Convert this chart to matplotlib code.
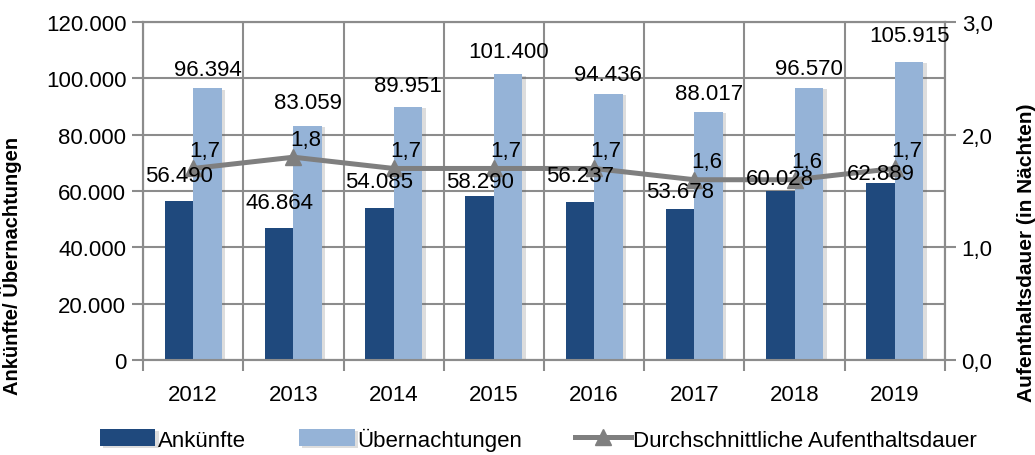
import numpy as np
import matplotlib
matplotlib.use('Agg')
import matplotlib.pyplot as plt
import matplotlib.patheffects as pe
import matplotlib.ticker as ticker

plt.rcParams['font.family'] = ['Liberation Sans', 'DejaVu Sans']

# data
jahre = ['2012', '2013', '2014', '2015', '2016', '2017', '2018', '2019']
ankuenfte = [56490, 46864, 54085, 58290, 56237, 53678, 60028, 62889]
uebernachtungen = [96394, 83059, 89951, 101400, 94436, 88017, 96570, 105915]
dauer = [1.7, 1.8, 1.7, 1.7, 1.7, 1.6, 1.6, 1.7]

# label offsets above bar tops (pixels), as placed in the original
off_dark = [25, 26, 26, 14, 26, 17, 12, 9]
off_light = [19, 24, 21, 23, 19, 19, 19, 26]

dark = '#1f497d'
light = '#95b3d7'
grey = '#7f7f7f'
gridc = '#8c8c8c'

def fmt_de(v):
    return '{:,.0f}'.format(v).replace(',', '.')

fig = plt.figure(figsize=(10.35, 4.56), dpi=100)
ax = fig.add_axes([0.1382, 0.2083, 0.7748, 0.7413])
ax2 = ax.twinx()
ax.set_zorder(1)
ax2.set_zorder(2)
ax2.patch.set_visible(False)

x = np.arange(len(jahre))
w = 0.285
shadow = [pe.SimplePatchShadow(offset=(2.5, -1), shadow_rgbFace='#666666', alpha=0.22), pe.Normal()]
b1 = ax.bar(x - w / 2, ankuenfte, w, color=dark, label='Ankünfte', zorder=3, path_effects=shadow)
b2 = ax.bar(x + w / 2, uebernachtungen, w, color=light, label='Übernachtungen', zorder=3, path_effects=shadow)

ln, = ax2.plot(x, dauer, color=grey, lw=3.6, marker='^', ms=11, label='Durchschnittliche Aufenthaltsdauer', zorder=4)

# value labels drawn on top of the line
for i in range(len(jahre)):
    ax2.annotate(fmt_de(ankuenfte[i]), (x[i] - w / 2, ankuenfte[i]), xycoords=ax.transData,
                 xytext=(0, off_dark[i]), textcoords='offset pixels', ha='center', va='center',
                 fontsize=16, zorder=6)
    ax2.annotate(fmt_de(uebernachtungen[i]), (x[i] + w / 2, uebernachtungen[i]), xycoords=ax.transData,
                 xytext=(0, off_light[i]), textcoords='offset pixels', ha='center', va='center',
                 fontsize=16, zorder=6)
    ax2.annotate(('%.1f' % dauer[i]).replace('.', ','), (x[i], dauer[i]), xytext=(12, 18),
                 textcoords='offset pixels', ha='center', va='center', fontsize=16, zorder=6)

ax.set_xlim(-0.5, len(jahre) - 0.5)
ax.set_ylim(0, 120000)
ax2.set_ylim(0, 3)
ax.yaxis.set_major_locator(ticker.MultipleLocator(20000))
ax.yaxis.set_major_formatter(ticker.FuncFormatter(lambda v, p: fmt_de(v)))
ax2.yaxis.set_major_locator(ticker.MultipleLocator(1))
ax2.yaxis.set_major_formatter(ticker.FuncFormatter(lambda v, p: ('%.1f' % v).replace('.', ',')))

# ticks at category borders, labels at centers
ax.set_xticks(np.arange(-0.5, len(jahre), 1.0))
ax.set_xticklabels([])
ax.set_xticks(x, minor=True)
ax.set_xticklabels(jahre, minor=True)
ax.tick_params(axis='x', which='minor', length=0, labelsize=16, pad=17)
ax.tick_params(axis='x', which='major', length=8, width=1.5, color=gridc, direction='out')
ax.tick_params(axis='y', length=8, width=1.5, color=gridc, labelsize=16, pad=4)
ax2.tick_params(axis='y', length=8, width=1.5, color=gridc, labelsize=16, pad=4)

ax.grid(True, which='major', color=gridc, lw=1.5, zorder=0)
ax.set_axisbelow(True)
for a in (ax, ax2):
    for s in a.spines.values():
        s.set_color(gridc)
        s.set_linewidth(1.5)

ax.set_ylabel('Ankünfte/ Übernachtungen', fontsize=14.5, fontweight='bold')
ax.yaxis.set_label_coords(-0.151, 0.28)
ax2.set_ylabel('Aufenthaltsdauer (in Nächten)', fontsize=15, fontweight='bold', rotation=90)
ax2.yaxis.set_label_coords(1.09, 0.32)

fig.legend([b1, b2, ln], ['Ankünfte', 'Übernachtungen', 'Durchschnittliche Aufenthaltsdauer'],
           loc='center', bbox_to_anchor=(0.52, 0.035), ncol=3, frameon=False, fontsize=16,
           handlelength=2.5, handletextpad=0.1, columnspacing=2.4, handleheight=0.8)

plt.savefig('out.png', dpi=100)
